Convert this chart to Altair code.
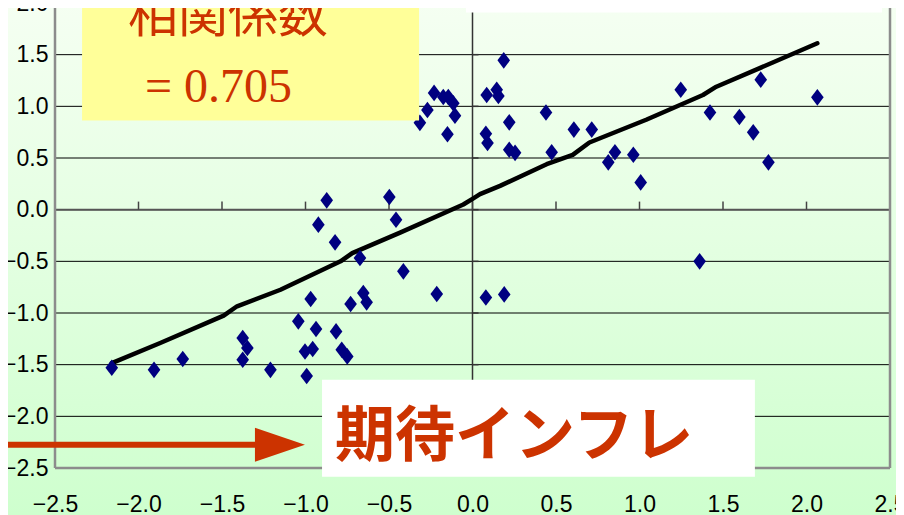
import altair as alt
import pandas as pd

# ---- data ----
pts_x = [0.085, 0.145, 0.155, 0.187, 0.08, 0.09, 0.22, 0.22, 0.255, 0.44, 0.474, 0.607,
         0.714, 0.813, 0.853, 0.963, 1.007, 1.247, 1.422, 1.598, 1.681, 1.726, 1.772, 2.065,
         1.36, 0.08, 0.19,
         -0.315, -0.27, -0.23, -0.175, -0.145, -0.115, -0.105, -0.15,
         -0.873, -0.498, -0.923, -0.823, -0.458, -0.674, -0.414, -0.214,
         -0.969, -0.73, -0.654, -0.634, -1.043, -0.937, -0.817, -1.003, -0.957, -0.783, -0.75,
         -1.376, -1.348, -1.376, -1.735, -2.16, -1.907, -1.21, -0.993]
pts_y = [1.11, 1.16, 1.10, 1.445, 0.735, 0.645, 0.845, 0.58, 0.55, 0.94, 0.555, 0.775,
         0.775, 0.458, 0.555, 0.532, 0.264, 1.16, 0.94, 0.897, 0.748, 1.258, 0.458, 1.087,
         -0.50, -0.85, -0.82,
         0.84, 0.965, 1.13, 1.09, 1.09, 1.03, 0.91, 0.73,
         0.09, 0.123, -0.145, -0.316, -0.097, -0.468, -0.597, -0.816,
         -0.865, -0.913, -0.806, -0.897, -1.081, -1.155, -1.178, -1.372, -1.349, -1.355, -1.42,
         -1.242, -1.339, -1.452, -1.445, -1.53, -1.55, -1.55, -1.61]

fit_x = [-2.16, -1.87, -1.49, -1.41, -1.15, -0.79, -0.72, -0.43, -0.055, 0.005, 0.045,
         0.165, 0.444, 0.60, 0.70, 1.04, 1.38, 1.46, 1.72, 2.065]
fit_y = [-1.485, -1.29, -1.026, -0.935, -0.775, -0.50, -0.42, -0.22, 0.05, 0.11, 0.15,
         0.23, 0.44, 0.53, 0.65, 0.87, 1.11, 1.19, 1.37, 1.61]

y_ticks = [-2.5, -2.0, -1.5, -1.0, -0.5, 0.0, 0.5, 1.0, 1.5, 2.0]
x_ticks = [-2.5, -2.0, -1.5, -1.0, -0.5, 0.0, 0.5, 1.0, 1.5, 2.0, 2.5]

corr_title = "相関係数"
corr_value = "= 0.705"
banner = "期待インフレ"

# ---- chart ----
W, H = 835, 465
RED = "#CC3300"
NAVY = "#000080"
FRAME = "#8C8C8C"
LABEL_FONT = "Liberation Sans Narrow, Liberation Sans, Arial, sans-serif"
CJK = "Noto Sans CJK JP"

xs = alt.Scale(domain=[-2.5, 2.5], nice=False, zero=False)
ys = alt.Scale(domain=[-2.5, 2.0], nice=False, zero=False)

AY = alt.Axis(values=y_ticks, format=".1f", orient="left", title=None, grid=False,
              ticks=False, domain=False, labelFont=LABEL_FONT, labelFontSize=23,
              labelColor="#000000", labelPadding=7, labelFlush=False,
              labelOverlap=False, labelBound=False, zindex=2)
AX = alt.Axis(values=x_ticks, format=".1f", orient="bottom", title=None, grid=False,
              ticks=False, domain=False, labelFont=LABEL_FONT, labelFontSize=23,
              labelColor="#000000", labelPadding=25, labelFlush=False,
              labelOverlap=False, labelBound=False, zindex=2)

pts = pd.DataFrame({"x": pts_x, "y": pts_y})
fit = pd.DataFrame({"x": fit_x, "y": fit_y, "i": range(len(fit_x))})
yt = pd.DataFrame({"v": y_ticks})
xt = pd.DataFrame({"t": x_ticks})

gradient = alt.LinearGradient(
    gradient="linear",
    stops=[alt.GradientStop(color="#F6FFF3", offset=0),
           alt.GradientStop(color="#E2FFE0", offset=0.5),
           alt.GradientStop(color="#CCFFCC", offset=1)],
    x1=0, x2=0, y1=0, y2=1,
)

def box(x1, x2, y1, y2):
    return pd.DataFrame({"x1": [x1], "x2": [x2], "y1": [y1], "y2": [y2]})

def rect(df, fill):
    return alt.Chart(df).mark_rect(fill=fill).encode(
        x=alt.X("x1:Q", scale=xs, axis=AX), x2="x2:Q",
        y=alt.Y("y1:Q", scale=ys, axis=AY), y2="y2:Q")

bg = rect(box(-2.9, 2.62, 2.12, -3.2), gradient)

grid = alt.Chart(yt).mark_rule(color="#000000", strokeWidth=1).encode(
    y=alt.Y("v:Q", scale=ys, axis=AY),
    x=alt.XDatum(-2.5, scale=xs, axis=AX), x2=alt.X2Datum(2.5))

zero_h = alt.Chart(yt).transform_filter("datum.v == 0").mark_rule(
    color="#555555", strokeWidth=2).encode(
    y=alt.Y("v:Q", scale=ys, axis=AY),
    x=alt.XDatum(-2.5, scale=xs, axis=AX), x2=alt.X2Datum(2.5))

xticks = alt.Chart(xt).mark_rule(color="#444444", strokeWidth=1.5).encode(
    x=alt.X("t:Q", scale=xs, axis=AX),
    y=alt.YDatum(0, scale=ys, axis=AY), y2=alt.Y2Datum(0.078))

vaxis = alt.Chart(yt).transform_filter("datum.v == 0").mark_rule(
    color="#333333", strokeWidth=1.5).encode(
    x=alt.XDatum(0, scale=xs, axis=AX),
    y=alt.YDatum(-2.5, scale=ys, axis=AY), y2=alt.Y2Datum(2.0))

yticks = alt.Chart(yt).mark_rule(color="#333333", strokeWidth=1.5).encode(
    y=alt.Y("v:Q", scale=ys, axis=AY),
    x=alt.XDatum(0, scale=xs, axis=AX), x2=alt.X2Datum(0.036))

# plot frame (left, right, bottom)
frame_v = alt.Chart(pd.DataFrame({"fx": [-2.5, 2.5]})).mark_rule(
    color=FRAME, strokeWidth=2.5).encode(
    x=alt.X("fx:Q", scale=xs, axis=AX),
    y=alt.YDatum(-2.5, scale=ys, axis=AY), y2=alt.Y2Datum(2.0))
frame_h = alt.Chart(pd.DataFrame({"fy": [-2.5]})).mark_rule(
    color=FRAME, strokeWidth=2.5).encode(
    y=alt.Y("fy:Q", scale=ys, axis=AY),
    x=alt.XDatum(-2.5, scale=xs, axis=AX), x2=alt.X2Datum(2.5))

line = alt.Chart(fit).mark_line(color="#000000", strokeWidth=4.5,
                                strokeCap="round", strokeJoin="round").encode(
    x=alt.X("x:Q", scale=xs, axis=AX),
    y=alt.Y("y:Q", scale=ys, axis=AY),
    order="i:Q")

points = alt.Chart(pts).mark_point(
    shape="M0,-1L0.76,0L0,1L-0.76,0Z", filled=True, fill=NAVY, color=NAVY,
    opacity=1, size=276, strokeWidth=0).encode(
    x=alt.X("x:Q", scale=xs, axis=AX),
    y=alt.Y("y:Q", scale=ys, axis=AY))

yellow = rect(box(-2.338, -0.320, 2.12, 0.862), "#FFFF99")
white_top = rect(box(-0.039, 2.452, 2.12, 1.907), "#FFFFFF")
white_bot = rect(box(-0.901, 1.691, -1.646, -2.585), "#FFFFFF")

def label(txt, x, y, **kw):
    return alt.Chart(pd.DataFrame({"x": [x], "y": [y], "t": [txt]})).mark_text(**kw).encode(
        x=alt.X("x:Q", scale=xs, axis=AX),
        y=alt.Y("y:Q", scale=ys, axis=AY),
        text="t:N")

t1 = label(corr_title, -1.464, 1.72, font=CJK, fontSize=50, color=RED,
           align="center", baseline="alphabetic")
t2 = label(corr_value, -1.961, 1.045, font="Liberation Serif", fontSize=48, color=RED,
           align="left", baseline="alphabetic")
t3 = label(banner, 0.249, -2.38, font=CJK, fontSize=60, fontWeight="bold", color=RED,
           align="center", baseline="alphabetic")

arrow_line = alt.Chart(box(-2.9, -1.25, -2.275, -2.275)).mark_rule(
    color=RED, strokeWidth=6).encode(
    x=alt.X("x1:Q", scale=xs, axis=AX), x2="x2:Q",
    y=alt.Y("y1:Q", scale=ys, axis=AY))

arrow_head = alt.Chart(pd.DataFrame({"x": [-1.153], "y": [-2.275]})).mark_point(
    shape="M-1,-0.68L1,0L-1,0.68Z", filled=True, fill=RED, color=RED, opacity=1,
    size=2500, strokeWidth=0).encode(
    x=alt.X("x:Q", scale=xs, axis=AX),
    y=alt.Y("y:Q", scale=ys, axis=AY))

chart = alt.layer(
    bg, grid, zero_h, vaxis, yticks, xticks, frame_v, frame_h, line, points,
    yellow, white_top, white_bot, t1, t2, t3, arrow_line, arrow_head,
).properties(
    width=W, height=H,
    autosize=alt.AutoSizeParams(type="none"),
    padding={"left": 47, "top": -5, "right": 6, "bottom": 50},
    background="#E6FFE2",
).configure_view(
    stroke=None,
)

chart.save("out.html", embed_options={"renderer": "svg", "actions": False})
